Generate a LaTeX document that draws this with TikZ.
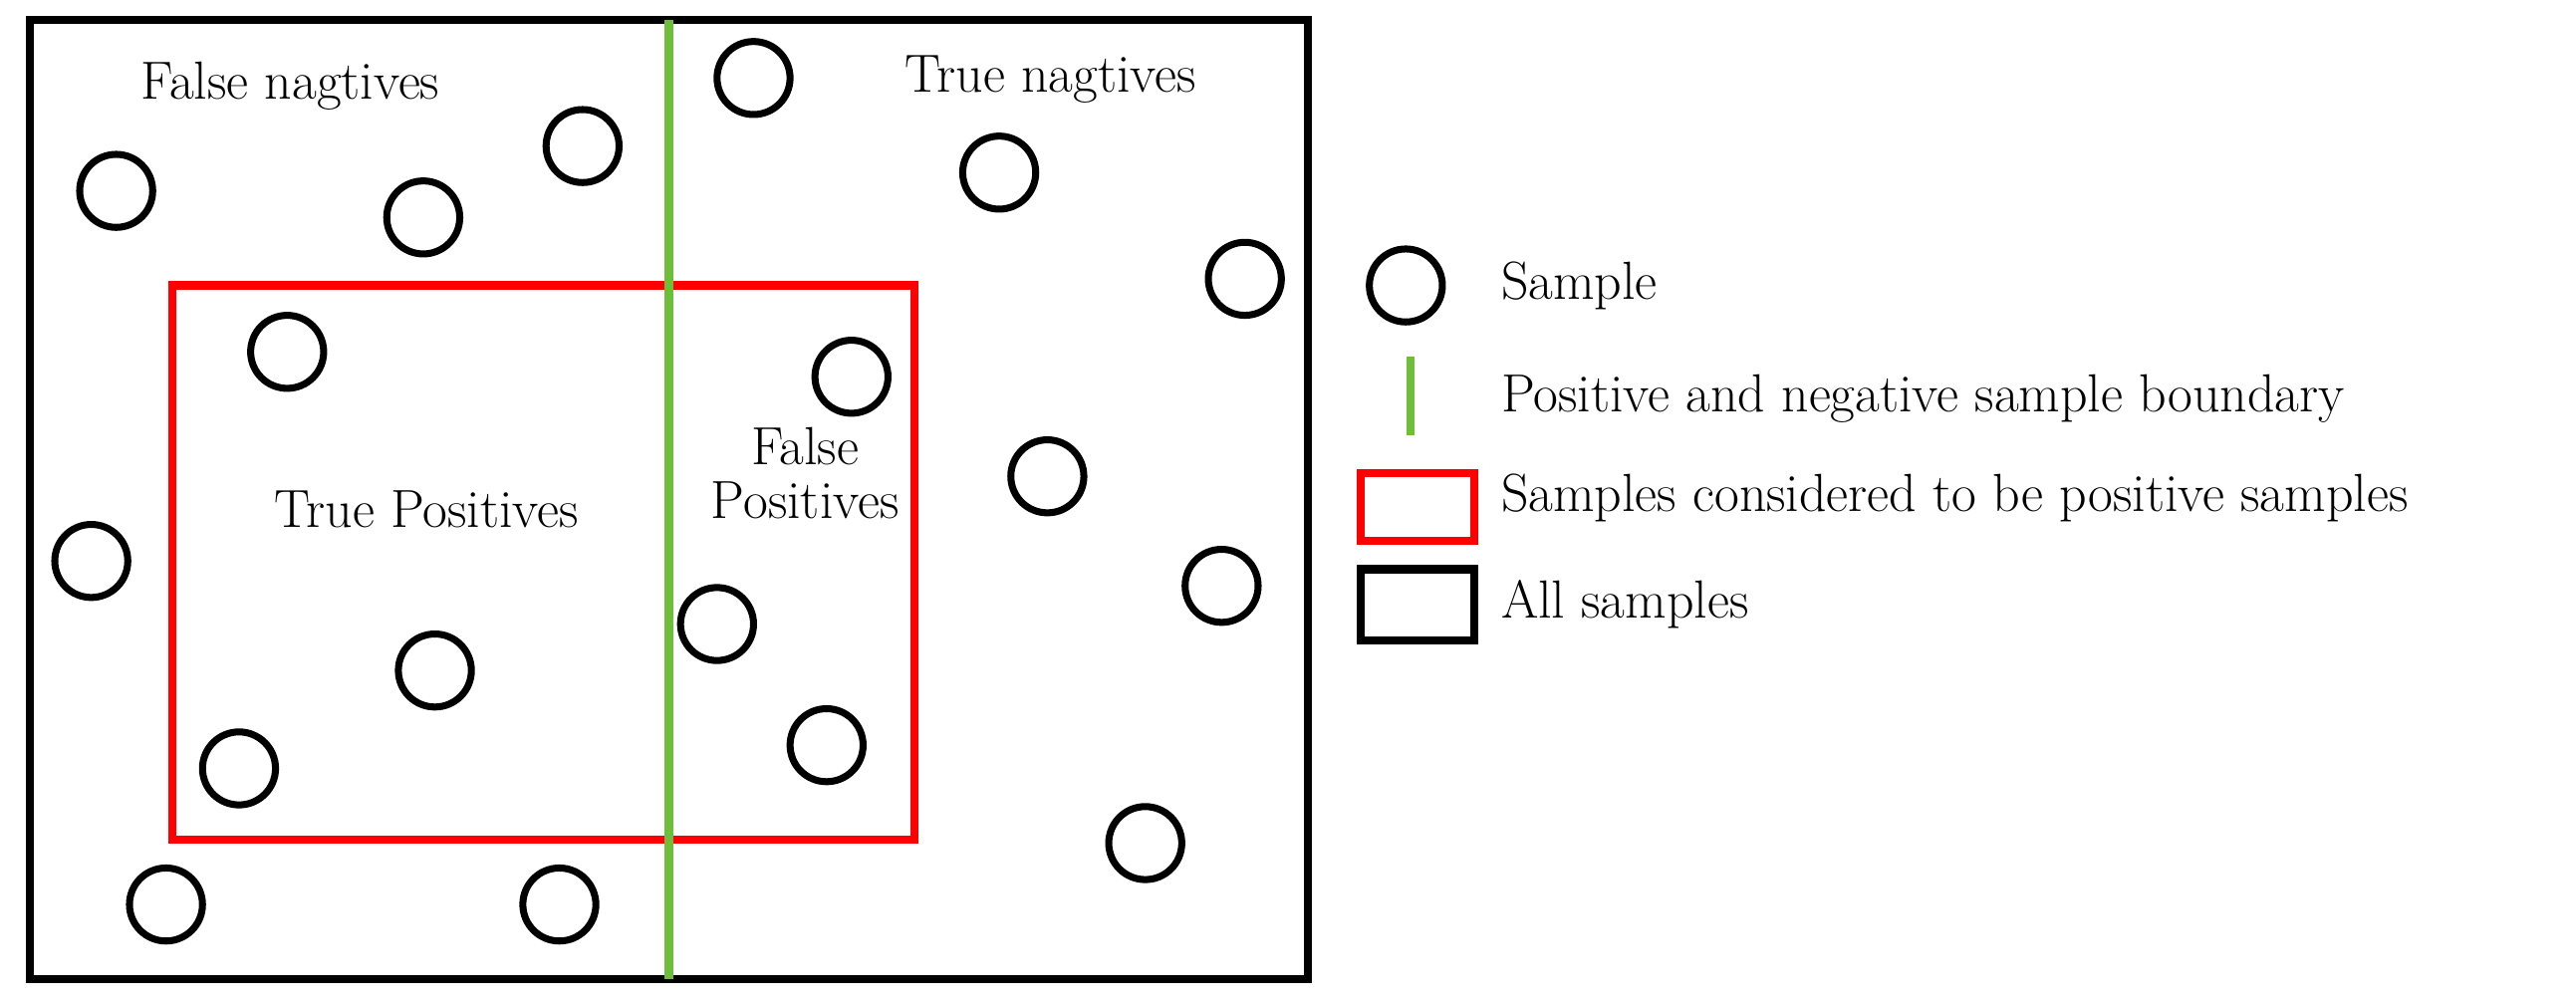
\documentclass[tikz,border=0pt]{standalone}
\begin{document}
\begin{tikzpicture}[x=0.05cm,y=-0.05cm,
  smp/.style={circle,draw=black,line width=6pt,minimum size=2.2cm,inner sep=0pt},
  lbl/.style={font=\fontsize{46}{52}\selectfont,align=center},
  leg/.style={font=\fontsize{46}{52}\selectfont,anchor=west}]
\useasboundingbox (0,0) rectangle (1552,604);
\draw[line width=7pt] (18,12) rectangle (788,590);
\draw[red,line width=7pt] (104,172) rectangle (551,506);
\draw[color={rgb,255:red,110;green,190;blue,60},line width=7pt] (403,12) coordinate (gt) -- (403,590) coordinate (gb);
\foreach \i/\x/\y in {1/70/115,2/255/131,3/351/88,4/454/47,5/602/104,6/750/168,7/173/212,8/513/227,9/631/287,10/55/338,11/736/353,12/432/376,13/262/404,14/498/449,15/144/463,16/690/508,17/100/545,18/337/545}
  \node[smp] (c\i) at (\x,\y) {};
\node[lbl] (fn) at (175,52) {False nagtives};
\node[lbl] (tn) at (633,48) {True nagtives};
\node[lbl] (tp) at (257,307) {True Positives};
\node[lbl] (fp) at (485,285) {False\\[-6pt]Positives};
\node[smp] (ls) at (847,172) {};
\draw[color={rgb,255:red,110;green,190;blue,60},line width=7pt] (850,215) coordinate (g1) -- (850,262) coordinate (g2);
\draw[red,line width=7pt] (820,285) rectangle (888,326);
\draw[line width=7pt] (820,343) rectangle (888,386);
\node[leg] (t1) at (902,172) {Sample};
\node[leg] (t2) at (902,240) {Positive and negative sample boundary};
\node[leg] (t3) at (902,300) {Samples considered to be positive samples};
\node[leg] (t4) at (902,364) {All samples};
\end{tikzpicture}
\end{document}
